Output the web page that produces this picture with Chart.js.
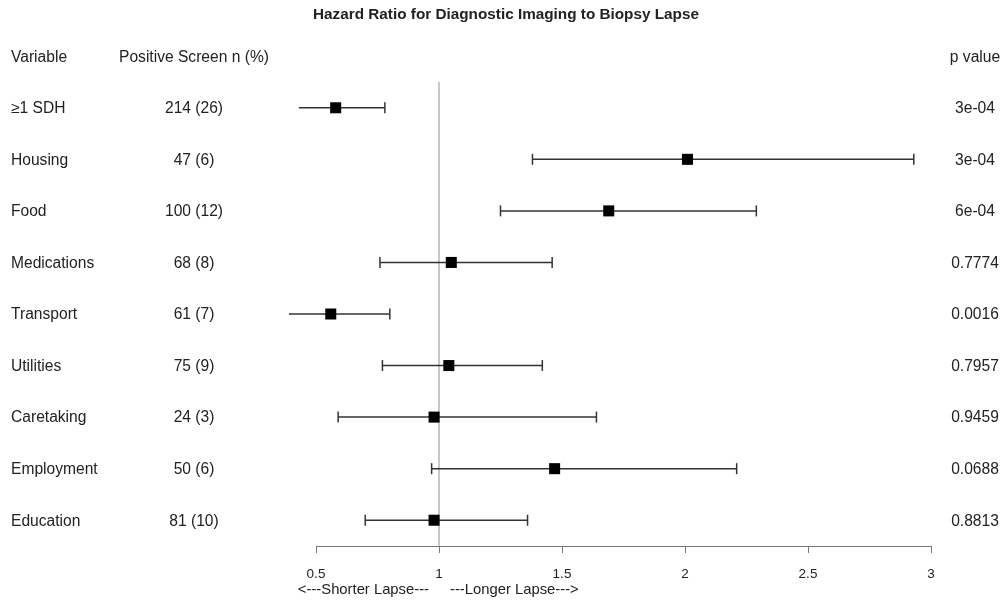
<!DOCTYPE html>
<html>
<head>
<meta charset="utf-8">
<title>Hazard Ratio for Diagnostic Imaging to Biopsy Lapse</title>
<script src="https://cdn.jsdelivr.net/npm/chart.js@4"></script>
<style>
  html, body { margin: 0; padding: 0; background: #fff; }
  #wrap { width: 1004px; height: 600px; }
</style>
</head>
<body>
<div id="wrap"><canvas id="forest" width="1004" height="600"></canvas></div>
<script>
/* ── Data ── */
const categories     = ['≥1 SDH', 'Housing', 'Food', 'Medications', 'Transport', 'Utilities', 'Caretaking', 'Employment', 'Education'];
const positiveScreen = ['214 (26)', '47 (6)', '100 (12)', '68 (8)', '61 (7)', '75 (9)', '24 (3)', '50 (6)', '81 (10)'];
const hazardRatio    = [0.58, 2.01, 1.69, 1.05, 0.56, 1.04, 0.98, 1.47, 0.98];
const ciLower        = [0.43, 1.38, 1.25, 0.76, 0.39, 0.77, 0.59, 0.97, 0.70];
const ciUpper        = [0.78, 2.93, 2.29, 1.46, 0.80, 1.42, 1.64, 2.21, 1.36];
const pValues        = ['3e-04', '3e-04', '6e-04', '0.7774', '0.0016', '0.7957', '0.9459', '0.0688', '0.8813'];
const xTicks         = [0.5, 1, 1.5, 2, 2.5, 3];
const refValue       = 1;

const FONT = '"Liberation Sans", Arial, Helvetica, sans-serif';
const INK  = '#222';

/* ── Datasets ── */
const datasets = [];

// reference line at HR = 1
datasets.push({
  type: 'line',
  data: [{ x: refValue, y: -0.5 }, { x: refValue, y: categories.length - 0.5 }],
  borderColor: '#b5b5b5', borderWidth: 1.5, pointRadius: 0, order: 3
});

// confidence intervals (one little line per row, caps via point style)
categories.forEach((_, i) => {
  datasets.push({
    type: 'line',
    data: [{ x: ciLower[i], y: i }, { x: ciUpper[i], y: i }],
    borderColor: '#333', borderWidth: 1.5,
    pointStyle: 'line', rotation: 90, pointRadius: 5.5,
    pointBorderColor: '#333', pointBorderWidth: 1.5,
    clip: false,
    order: 2
  });
});

// point estimates
datasets.push({
  type: 'scatter',
  data: hazardRatio.map((v, i) => ({ x: v, y: i })),
  pointStyle: 'rect', pointRadius: 7.8,
  backgroundColor: '#000', borderColor: '#000', borderWidth: 0,
  clip: false,
  order: 1
});

/* ── Text columns, drawn against the row scale ── */
const tablePlugin = {
  id: 'forestTable',
  afterDraw(chart) {
    const { ctx, scales: { x, y } } = chart;
    ctx.save();
    ctx.fillStyle = INK;
    ctx.textBaseline = 'middle';

    // title
    ctx.font = 'bold 15.3px ' + FONT;
    ctx.textAlign = 'center';
    ctx.fillText('Hazard Ratio for Diagnostic Imaging to Biopsy Lapse', 506, 15);

    // headers
    ctx.font = '15.6px ' + FONT;
    const hy = y.getPixelForValue(-1) + 1;
    ctx.textAlign = 'left';
    ctx.fillText('Variable', 11, hy);
    ctx.textAlign = 'center';
    ctx.fillText('Positive Screen n (%)', 194, hy);
    ctx.fillText('p value', 975, hy);

    // rows
    categories.forEach((cat, i) => {
      const py = y.getPixelForValue(i) + 1;
      ctx.textAlign = 'left';
      ctx.fillText(cat, 11, py);
      ctx.textAlign = 'center';
      ctx.fillText(positiveScreen[i], 194, py);
      ctx.fillText(pValues[i], 975, py);
    });

    // direction labels under the axis
    ctx.font = '14.8px ' + FONT;
    const rx = x.getPixelForValue(refValue);
    ctx.textAlign = 'right';
    ctx.fillText('<---Shorter Lapse---', rx - 10, 590);
    ctx.textAlign = 'left';
    ctx.fillText('---Longer Lapse--->', rx + 11, 590);
    ctx.restore();
  }
};

new Chart(document.getElementById('forest'), {
  data: { datasets },
  options: {
    responsive: false,
    animation: false,
    events: [],
    layout: { padding: { left: 316, right: 73, top: 82, bottom: 0 } },
    plugins: { legend: { display: false }, tooltip: { enabled: false }, title: { display: false } },
    scales: {
      x: {
        type: 'linear', min: xTicks[0], max: xTicks[xTicks.length - 1],
        afterBuildTicks: s => { s.ticks = xTicks.map(v => ({ value: v })); },
        afterFit: s => { s.height = 54; },
        ticks: { callback: v => String(v), color: INK, font: { family: FONT, size: 13.5 }, padding: 13, maxRotation: 0 },
        grid: { drawOnChartArea: false, drawTicks: true, tickLength: 7, color: '#777', lineWidth: 1 },
        border: { display: true, color: '#777', width: 1 }
      },
      y: {
        type: 'linear', min: -0.5, max: categories.length - 0.5, reverse: true,
        display: false
      }
    }
  },
  plugins: [tablePlugin]
});
</script>
</body>
</html>
